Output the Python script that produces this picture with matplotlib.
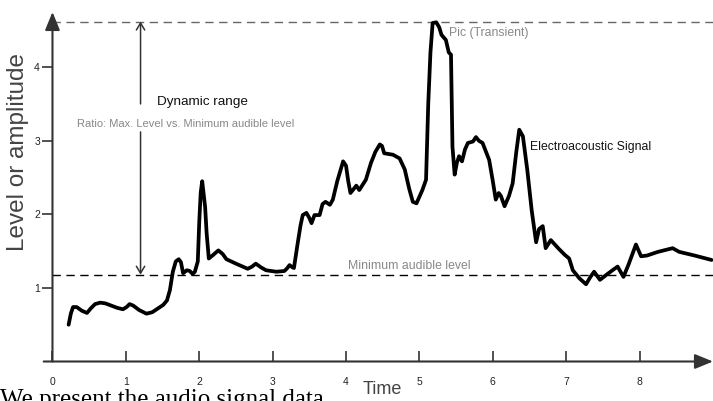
# Dynamic range of an electroacoustic signal
import matplotlib.pyplot as plt

t = [0.22, 0.25, 0.28, 0.33, 0.40, 0.47, 0.52, 0.58, 0.65, 0.72, 0.80, 0.88, 0.96, 1.01, 1.05,
     1.10, 1.18, 1.28, 1.36, 1.45, 1.51, 1.56, 1.60, 1.64, 1.68, 1.72, 1.75, 1.78, 1.83, 1.87,
     1.91, 1.94, 1.98, 2.00, 2.02, 2.04, 2.06, 2.08, 2.10, 2.13, 2.18, 2.26, 2.32, 2.37, 2.50,
     2.66, 2.72, 2.77, 2.84, 2.91, 3.05, 3.16, 3.20, 3.23, 3.27, 3.29, 3.34, 3.38, 3.41, 3.46,
     3.50, 3.53, 3.57, 3.64, 3.68, 3.72, 3.78, 3.82, 3.88, 3.96, 4.00, 4.03, 4.06, 4.14, 4.18,
     4.27, 4.34, 4.40, 4.46, 4.49, 4.52, 4.64, 4.73, 4.80, 4.86, 4.91, 4.96, 5.04, 5.09, 5.12,
     5.15, 5.18, 5.23, 5.27, 5.30, 5.36, 5.40, 5.43, 5.45, 5.48, 5.51, 5.54, 5.58, 5.62, 5.66,
     5.73, 5.77, 5.81, 5.86, 5.95, 6.00, 6.04, 6.08, 6.11, 6.16, 6.22, 6.27, 6.32, 6.36, 6.41,
     6.47, 6.53, 6.59, 6.63, 6.68, 6.72, 6.79, 6.90, 6.98, 7.04, 7.09, 7.18, 7.27, 7.33, 7.38,
     7.46, 7.55, 7.63, 7.70, 7.78, 7.85, 7.95, 8.02, 8.10, 8.25, 8.45, 8.54, 8.75, 8.98]
level = [0.50, 0.65, 0.74, 0.74, 0.69, 0.66, 0.72, 0.78, 0.80, 0.79, 0.76, 0.73, 0.71, 0.74, 0.78,
         0.76, 0.70, 0.65, 0.67, 0.73, 0.77, 0.83, 0.97, 1.22, 1.36, 1.39, 1.35, 1.20, 1.24, 1.23,
         1.19, 1.22, 1.36, 1.90, 2.30, 2.45, 2.28, 2.10, 1.75, 1.40, 1.44, 1.51, 1.46, 1.39, 1.33,
         1.26, 1.29, 1.33, 1.28, 1.24, 1.22, 1.23, 1.27, 1.31, 1.28, 1.27, 1.60, 1.85, 1.99, 2.02,
         1.95, 1.88, 1.99, 1.99, 2.14, 2.17, 2.13, 2.20, 2.45, 2.72, 2.66, 2.45, 2.29, 2.39, 2.33,
         2.47, 2.70, 2.85, 2.95, 2.93, 2.83, 2.81, 2.76, 2.61, 2.35, 2.17, 2.15, 2.33, 2.47, 3.50,
         4.20, 4.60, 4.61, 4.54, 4.44, 4.37, 4.20, 4.17, 2.92, 2.54, 2.70, 2.79, 2.72, 2.88, 2.97,
         2.99, 3.05, 3.00, 2.97, 2.74, 2.45, 2.20, 2.29, 2.25, 2.11, 2.25, 2.42, 2.85, 3.15, 3.06,
         2.60, 2.05, 1.62, 1.80, 1.84, 1.54, 1.65, 1.53, 1.45, 1.40, 1.24, 1.13, 1.05, 1.15, 1.22,
         1.11, 1.18, 1.24, 1.29, 1.15, 1.32, 1.59, 1.43, 1.44, 1.49, 1.54, 1.49, 1.44, 1.38]

max_level = 4.62
min_level = 1.18
x_ticks = [0, 1, 2, 3, 4, 5, 6, 7, 8]
y_ticks = [1, 2, 3, 4]

plt.rcParams['font.family'] = ['Liberation Sans', 'DejaVu Sans']

fig = plt.figure(figsize=(7.13, 4.01), dpi=100)
ax = fig.add_axes([0.0736, 0.0985, 0.9264, 0.8716])
ax.set_xlim(0, 9)
ax.set_ylim(0, 4.75)
for s in ax.spines.values():
    s.set_visible(False)

# axes with arrows
ax.annotate('', xy=(9, 0), xytext=(-0.12, 0), annotation_clip=False,
            arrowprops=dict(arrowstyle='-|>,head_length=1.1,head_width=0.45', color='#333333', lw=1.5,
                            shrinkA=0, shrinkB=0))
ax.annotate('', xy=(0, 4.75), xytext=(0, 0), annotation_clip=False,
            arrowprops=dict(arrowstyle='-|>,head_length=1.1,head_width=0.45', color='#333333', lw=1.5,
                            shrinkA=0, shrinkB=0))

ax.set_xticks(x_ticks)
ax.set_yticks(y_ticks)
ax.tick_params(axis='x', direction='in', length=8, width=1.2, color='#333333', pad=11,
               labelsize=7.5, labelcolor='#222222')
ax.tick_params(axis='y', direction='out', length=7, width=1.2, color='#333333', pad=2,
               labelsize=7.5, labelcolor='#222222')

# reference levels
ax.axhline(max_level, color='#666666', lw=1, ls=(0, (6, 4)))
ax.axhline(min_level, color='black', lw=1, ls=(0, (6, 4)))

# signal
ax.plot(t, level, color='black', lw=2.7, solid_joinstyle='round', solid_capstyle='round')

# dynamic range arrow, broken around the text
ax.annotate('', xy=(1.2, max_level), xytext=(1.2, 3.50),
            arrowprops=dict(arrowstyle='->,head_length=0.5,head_width=0.3', color='#333333', lw=1.1,
                            shrinkA=0, shrinkB=0))
ax.annotate('', xy=(1.2, min_level), xytext=(1.2, 3.12),
            arrowprops=dict(arrowstyle='->,head_length=0.5,head_width=0.3', color='#333333', lw=1.1,
                            shrinkA=0, shrinkB=0))

ax.text(1.42, 3.53, 'Dynamic range', fontsize=9.7, color='#111111', va='center')
ax.text(1.82, 3.23, 'Ratio: Max. Level vs. Minimum audible level', fontsize=8, color='#888888',
        va='center', ha='center')
ax.text(5.4, 4.46, 'Pic (Transient)', fontsize=8.8, color='#888888', va='center')
ax.text(6.5, 2.92, 'Electroacoustic Signal', fontsize=8.8, color='#111111', va='center')
ax.text(4.03, 1.30, 'Minimum audible level', fontsize=8.8, color='#888888', va='center')

fig.text(382 / 713, 1 - 389 / 401, 'Time', fontsize=13, color='#444444', ha='center', va='center')
fig.text(18 / 713, 1 - 152 / 401, 'Level or amplitude', fontsize=17.5, color='#444444',
         rotation=90, ha='center', va='center')

fig.text(0.0, 0.03, 'We present the audio signal data', fontsize=18, family='Liberation Serif',
         va='top', ha='left')

fig.savefig('out.png', dpi=100)
